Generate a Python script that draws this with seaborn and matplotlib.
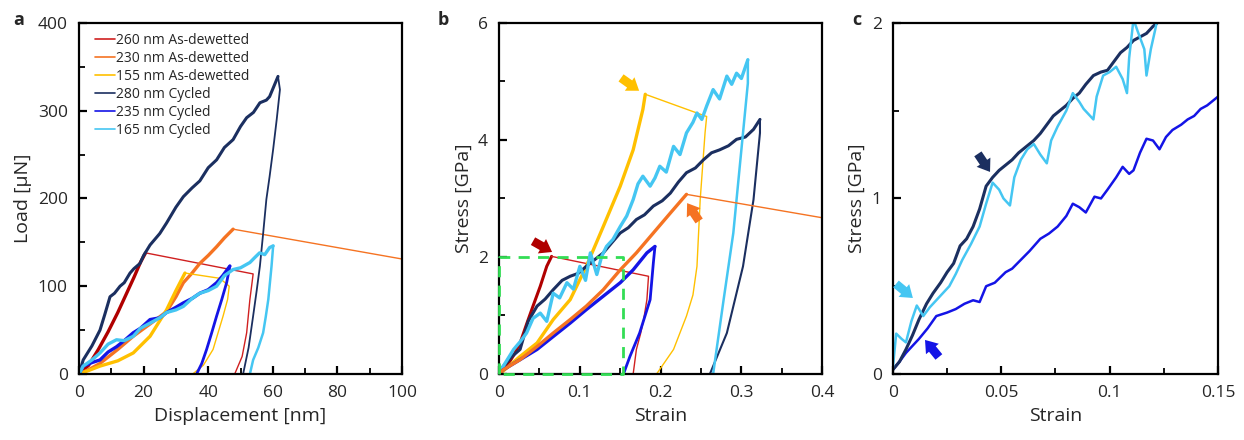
import numpy as np
import pandas as pd
import matplotlib
matplotlib.use("Agg")
import matplotlib.pyplot as plt
import seaborn as sns
from matplotlib.lines import Line2D
from matplotlib.ticker import MultipleLocator

# =========================================================
# DATA
# =========================================================
labels = ["260 nm As-dewetted", "230 nm As-dewetted", "155 nm As-dewetted",
          "280 nm Cycled", "235 nm Cycled", "165 nm Cycled"]
colors = ["#D02020", "#F57322", "#FFC000", "#1B2F60", "#1414E6", "#45C6F2"]

# --- panel a : load [uN] vs displacement [nm] ---
a_red_load_x = [0, 3, 6, 9, 12, 15, 17, 19, 20.6]
a_red_load_y = [0, 10, 28, 48, 70, 94, 110, 127, 138]
a_red_post_x = [20.6, 53.9, 53.6, 52.9, 51.9, 50.5, 48.2]
a_red_post_y = [138, 114, 105, 85, 47, 20, 0]

a_org_load_x = [0, 3, 6.5, 12, 16.8, 22, 27.1, 30, 32.3, 35, 37.4, 40, 42.6, 45, 47.7]
a_org_load_y = [0, 5, 12, 28, 43, 57, 71, 88, 104, 115, 126, 135, 145, 155, 165]
a_org_post_x = [47.7, 100]
a_org_post_y = [165, 131]

a_yel_load_x = [0, 3, 6.5, 12, 16.8, 22, 27.1, 30, 32.8]
a_yel_load_y = [0, 4, 9, 15, 24, 43, 73, 95, 115]
a_yel_post_x = [32.8, 43.6, 46.5, 46.0, 44.6, 41.5, 38.5, 35.2]
a_yel_post_y = [115, 109, 100, 85, 66, 28, 10, 0]

a_nav_load_x = [0, 1.3, 4, 6.5, 8, 9.6, 11, 12.7, 14, 15.8, 17, 18.9, 20, 22, 25, 27.1,
                30, 32.3, 35, 37.4, 40, 42.6, 45, 47.7, 50, 51.9, 54, 56, 58, 59, 61.6]
a_nav_load_y = [0, 16, 32, 50, 68, 88, 92, 100, 104, 115, 120, 126, 135, 147, 160, 172,
                190, 202, 212, 220, 235, 244, 258, 267, 282, 292, 298, 309, 312, 316, 339]
a_nav_post_x = [61.6, 62.2, 61.2, 60.1, 59, 58, 57, 56, 55, 53.9, 52.5, 50.8]
a_nav_post_y = [339, 324, 290, 256, 225, 199, 160, 123, 95, 66, 30, 0]

a_blu_load_x = [0, 1.3, 4, 6.5, 9, 11.6, 14, 16.8, 19, 22, 25, 27.1, 30, 32.3, 35, 37.4,
                40, 42.6, 44.5, 46.7]
a_blu_load_y = [0, 9, 13, 16, 25, 31, 38, 47, 52, 62, 64, 70, 76, 81, 86, 92,
                96, 104, 112, 123]
a_blu_post_x = [46.7, 45.7, 44.2, 42.6, 41, 39.5, 38, 36.4]
a_blu_post_y = [123, 104, 85, 66, 46, 28, 12, 0]

a_cyn_load_x = [0, 1.3, 4, 6.5, 9, 11.6, 14, 16.8, 19, 22, 25, 27.1, 30, 32.3, 35, 37.4,
                40, 42.6, 45, 47.7, 50, 52.9, 54.5, 55.9, 57.5, 59, 60.1]
a_cyn_load_y = [0, 9, 16, 24, 34, 39, 38, 43, 52, 58, 64, 70, 73, 77, 86, 92,
                95, 100, 112, 119, 121, 127, 133, 138, 136, 144, 146]
a_cyn_post_x = [60.1, 59.6, 58.6, 57.8, 57, 55.5, 53.9, 52.9]
a_cyn_post_y = [146, 123, 85, 65, 47, 30, 16, 0]

# --- panel b : stress [GPa] vs strain ---
b_red_load_x = [0, 0.0095, 0.018, 0.026, 0.034, 0.042, 0.051, 0.059, 0.065]
b_red_load_y = [0, 0.13, 0.32, 0.53, 0.85, 1.16, 1.50, 1.84, 2.01]
b_red_post_x = [0.065, 0.185, 0.183, 0.179, 0.175, 0.170, 0.166]
b_red_post_y = [2.01, 1.67, 1.27, 0.93, 0.68, 0.42, 0]

b_org_load_x = [0, 0.005, 0.026, 0.047, 0.067, 0.088, 0.108, 0.129, 0.150, 0.170,
                0.191, 0.212, 0.232]
b_org_load_y = [0, 0.07, 0.245, 0.47, 0.70, 0.93, 1.16, 1.44, 1.78, 2.07,
                2.41, 2.75, 3.07]
b_org_post_x = [0.232, 0.4]
b_org_post_y = [3.07, 2.67]

b_yel_load_x = [0, 0.005, 0.026, 0.047, 0.067, 0.088, 0.108, 0.129, 0.150, 0.166,
                0.178, 0.181]
b_yel_load_y = [0, 0.05, 0.30, 0.53, 0.93, 1.27, 1.84, 2.52, 3.21, 3.83,
                4.52, 4.78]
b_yel_post_x = [0.181, 0.257, 0.255, 0.249, 0.245, 0.240, 0.232, 0.216, 0.195]
b_yel_post_y = [4.78, 4.40, 4.12, 2.98, 1.84, 1.35, 0.99, 0.42, 0]

b_nav_load_x = [0, 0.005, 0.016, 0.026, 0.036, 0.047, 0.057, 0.067, 0.078, 0.088, 0.098,
                0.108, 0.118, 0.129, 0.140, 0.150, 0.160, 0.170, 0.180, 0.191, 0.202,
                0.212, 0.222, 0.232, 0.243, 0.253, 0.263, 0.273, 0.284, 0.294, 0.305,
                0.315, 0.323]
b_nav_load_y = [0, 0.13, 0.30, 0.42, 0.90, 1.16, 1.28, 1.44, 1.60, 1.67, 1.72,
                1.84, 1.95, 2.07, 2.25, 2.41, 2.50, 2.64, 2.72, 2.87, 2.96,
                3.09, 3.28, 3.44, 3.52, 3.66, 3.78, 3.83, 3.90, 4.01, 4.05,
                4.18, 4.35]
b_nav_post_x = [0.323, 0.323, 0.315, 0.302, 0.282, 0.261]
b_nav_post_y = [4.35, 4.12, 2.98, 1.84, 0.70, 0]

b_blu_load_x = [0, 0.005, 0.026, 0.047, 0.067, 0.088, 0.108, 0.129, 0.150, 0.166,
                0.183, 0.193]
b_blu_load_y = [0, 0.07, 0.245, 0.42, 0.64, 0.87, 1.10, 1.33, 1.56, 1.78,
                2.07, 2.18]
b_blu_post_x = [0.193, 0.191, 0.187, 0.174, 0.162, 0.154]
b_blu_post_y = [2.18, 1.90, 1.27, 0.70, 0.30, 0]

b_cyn_load_x = [0, 0.005, 0.018, 0.026, 0.034, 0.042, 0.051, 0.059, 0.067, 0.075, 0.084,
                0.092, 0.100, 0.107, 0.113, 0.121, 0.127, 0.133, 0.141, 0.150, 0.158,
                0.166, 0.172, 0.178, 0.187, 0.193, 0.199, 0.207, 0.216, 0.224, 0.232,
                0.240, 0.245, 0.251, 0.257, 0.265, 0.273, 0.282, 0.288, 0.294, 0.300,
                0.308]
b_cyn_load_y = [0, 0.13, 0.42, 0.55, 0.70, 0.95, 1.04, 0.90, 1.38, 1.30, 1.56,
                1.45, 1.84, 1.60, 2.07, 1.70, 2.01, 2.18, 2.30, 2.52, 2.70,
                2.98, 3.25, 3.38, 3.21, 3.35, 3.55, 3.45, 3.89, 3.75, 4.12,
                4.30, 4.46, 4.35, 4.58, 4.86, 4.70, 5.09, 4.95, 5.14, 5.05,
                5.37]
b_cyn_post_x = [0.308, 0.308, 0.298, 0.290, 0.278, 0.265]
b_cyn_post_y = [5.37, 4.97, 3.55, 2.41, 1.27, 0]

b_box_x = [0, 0, 0.153, 0.153, 0]
b_box_y = [0, 2.0, 2.0, 0, 0]

# --- panel c : zoom of the cycled curves ---
c_nav_x = [0, 0.003, 0.006, 0.009, 0.012, 0.0155, 0.0185, 0.022, 0.025, 0.028, 0.031,
           0.034, 0.037, 0.040, 0.043, 0.046, 0.049, 0.052, 0.055, 0.058, 0.062,
           0.065, 0.068, 0.071, 0.074, 0.077, 0.080, 0.083, 0.086, 0.089, 0.0925,
           0.096, 0.099, 0.102, 0.105, 0.108, 0.111, 0.114, 0.117, 0.120, 0.122]
c_nav_y = [0.025, 0.07, 0.14, 0.22, 0.31, 0.40, 0.46, 0.52, 0.58, 0.63, 0.73,
           0.77, 0.84, 0.94, 1.07, 1.12, 1.16, 1.19, 1.22, 1.26, 1.30,
           1.33, 1.37, 1.42, 1.47, 1.50, 1.53, 1.57, 1.60, 1.65, 1.70,
           1.72, 1.73, 1.78, 1.83, 1.86, 1.90, 1.92, 1.94, 1.98, 2.0]

c_cyn_x = [0, 0.0015, 0.004, 0.006, 0.0085, 0.011, 0.014, 0.017, 0.020, 0.023, 0.026,
           0.029, 0.032, 0.036, 0.040, 0.043, 0.046, 0.049, 0.051, 0.054, 0.056,
           0.059, 0.062, 0.065, 0.068, 0.071, 0.073, 0.076, 0.080, 0.083, 0.086,
           0.088, 0.0925, 0.094, 0.097, 0.100, 0.103, 0.106, 0.108, 0.109, 0.111,
           0.113, 0.116, 0.117, 0.119, 0.121, 0.122]
c_cyn_y = [0.04, 0.23, 0.20, 0.18, 0.30, 0.39, 0.33, 0.38, 0.42, 0.46, 0.50,
           0.57, 0.65, 0.74, 0.84, 0.97, 1.09, 1.05, 1.00, 0.96, 1.12,
           1.22, 1.28, 1.31, 1.25, 1.20, 1.33, 1.41, 1.50, 1.60, 1.55,
           1.51, 1.45, 1.58, 1.70, 1.72, 1.75, 1.68, 1.60, 1.80, 2.02,
           1.95, 1.85, 1.70, 1.85, 1.96, 2.02]

c_blu_x = [0, 0.003, 0.006, 0.009, 0.012, 0.016, 0.020, 0.025, 0.029, 0.033, 0.037,
           0.040, 0.043, 0.047, 0.052, 0.055, 0.059, 0.063, 0.068, 0.072, 0.076,
           0.080, 0.083, 0.086, 0.089, 0.093, 0.096, 0.099, 0.103, 0.106, 0.109,
           0.111, 0.114, 0.117, 0.120, 0.123, 0.126, 0.129, 0.133, 0.136, 0.139,
           0.142, 0.145, 0.148, 0.150]
c_blu_y = [0.025, 0.07, 0.12, 0.16, 0.20, 0.26, 0.33, 0.35, 0.37, 0.40, 0.42,
           0.41, 0.50, 0.52, 0.58, 0.60, 0.65, 0.70, 0.77, 0.80, 0.84,
           0.90, 0.97, 0.95, 0.92, 1.01, 1.00, 1.05, 1.12, 1.18, 1.14,
           1.16, 1.26, 1.34, 1.33, 1.28, 1.35, 1.39, 1.42, 1.45, 1.47,
           1.51, 1.53, 1.56, 1.58]

# =========================================================
# STYLE
# =========================================================
sns.set_theme(style="white")
plt.rcParams["font.family"] = ["Open Sans", "DejaVu Sans"]
plt.rcParams["axes.linewidth"] = 1.6
plt.rcParams["axes.edgecolor"] = "black"

fig = plt.figure(figsize=(12.44, 4.40), dpi=100)
ax_a = fig.add_axes([0.0635, 0.15, 0.2597, 0.798])
ax_b = fig.add_axes([0.4012, 0.15, 0.2597, 0.798])
ax_c = fig.add_axes([0.7178, 0.15, 0.2613, 0.798])


def draw(ax, x, y, color, lw):
    df = pd.DataFrame({"x": x, "y": y})
    sns.lineplot(data=df, x="x", y="y", sort=False, estimator=None,
                 color=color, lw=lw, ax=ax)


def arrow(ax, xy, xytext, color):
    ax.annotate("", xy=xy, xytext=xytext,
                arrowprops=dict(arrowstyle="simple,head_width=0.85,head_length=0.6,tail_width=0.45",
                                mutation_scale=14, color=color, lw=0,
                                shrinkA=0, shrinkB=0),
                zorder=6)


# ---------- panel a ----------
draw(ax_a, a_red_load_x, a_red_load_y, "#B00000", 2.4)
draw(ax_a, a_red_post_x, a_red_post_y, colors[0], 1.0)
draw(ax_a, a_org_load_x, a_org_load_y, colors[1], 2.4)
draw(ax_a, a_org_post_x, a_org_post_y, colors[1], 1.0)
draw(ax_a, a_yel_load_x, a_yel_load_y, colors[2], 2.4)
draw(ax_a, a_yel_post_x, a_yel_post_y, colors[2], 1.0)
draw(ax_a, a_nav_load_x, a_nav_load_y, colors[3], 2.2)
draw(ax_a, a_nav_post_x, a_nav_post_y, colors[3], 1.3)
draw(ax_a, a_blu_load_x, a_blu_load_y, colors[4], 2.4)
draw(ax_a, a_blu_post_x, a_blu_post_y, colors[4], 2.0)
draw(ax_a, a_cyn_load_x, a_cyn_load_y, colors[5], 2.4)
draw(ax_a, a_cyn_post_x, a_cyn_post_y, colors[5], 1.8)

ax_a.set_xlim(0, 100)
ax_a.set_ylim(0, 400)
ax_a.xaxis.set_major_locator(MultipleLocator(20))
ax_a.xaxis.set_minor_locator(MultipleLocator(10))
ax_a.yaxis.set_major_locator(MultipleLocator(100))
ax_a.yaxis.set_minor_locator(MultipleLocator(50))
ax_a.set_xlabel("Displacement [nm]")
ax_a.set_ylabel("Load [μN]")

handles = [Line2D([0], [0], color=c, lw=1.2) for c in colors]
ax_a.legend(handles, labels, loc="upper left", frameon=False, fontsize=10,
            handlelength=1.4, handletextpad=0.1, labelspacing=0.22,
            borderaxespad=0.3, bbox_to_anchor=(0.02, 1.0))

# ---------- panel b ----------
draw(ax_b, b_red_load_x, b_red_load_y, "#B00000", 2.2)
draw(ax_b, b_red_post_x, b_red_post_y, colors[0], 1.0)
draw(ax_b, b_yel_load_x, b_yel_load_y, colors[2], 2.4)
draw(ax_b, b_yel_post_x, b_yel_post_y, colors[2], 1.0)
draw(ax_b, b_nav_load_x, b_nav_load_y, colors[3], 2.2)
draw(ax_b, b_nav_post_x, b_nav_post_y, colors[3], 1.5)
draw(ax_b, b_cyn_load_x, b_cyn_load_y, colors[5], 2.4)
draw(ax_b, b_cyn_post_x, b_cyn_post_y, colors[5], 1.8)
draw(ax_b, b_blu_load_x, b_blu_load_y, colors[4], 2.4)
draw(ax_b, b_blu_post_x, b_blu_post_y, colors[4], 2.0)
draw(ax_b, b_org_load_x, b_org_load_y, colors[1], 2.4)
draw(ax_b, b_org_post_x, b_org_post_y, colors[1], 1.0)
ax_b.plot(b_box_x, b_box_y, color="#33DD55", lw=2.0, ls=(0, (4, 3)),
          clip_on=False, zorder=5)

arrow(ax_b, (0.0656, 2.085), (0.042, 2.27), "#B00000")
arrow(ax_b, (0.1734, 4.84), (0.151, 5.06), colors[2])
arrow(ax_b, (0.2328, 2.92), (0.2477, 2.615), colors[1])

ax_b.set_xlim(0, 0.4)
ax_b.set_ylim(0, 6)
ax_b.xaxis.set_minor_locator(MultipleLocator(0.05))
ax_b.yaxis.set_major_locator(MultipleLocator(2))
ax_b.yaxis.set_minor_locator(MultipleLocator(1))
ax_b.set_xticks([0, 0.1, 0.2, 0.3, 0.4], ["0", "0.1", "0.2", "0.3", "0.4"])
ax_b.set_xlabel("Strain")
ax_b.set_ylabel("Stress [GPa]")

# ---------- panel c ----------
draw(ax_c, c_blu_x, c_blu_y, colors[4], 1.8)
draw(ax_c, c_nav_x, c_nav_y, colors[3], 2.2)
draw(ax_c, c_cyn_x, c_cyn_y, colors[5], 1.8)

arrow(ax_c, (0.0092, 0.433), (0.0014, 0.513), colors[5])
arrow(ax_c, (0.0448, 1.151), (0.0392, 1.254), colors[3])
arrow(ax_c, (0.0148, 0.194), (0.0212, 0.097), colors[4])

ax_c.set_xlim(0, 0.15)
ax_c.set_ylim(0, 2)
ax_c.xaxis.set_minor_locator(MultipleLocator(0.025))
ax_c.yaxis.set_minor_locator(MultipleLocator(0.5))
ax_c.set_xticks([0, 0.05, 0.1, 0.15], ["0", "0.05", "0.1", "0.15"])
ax_c.set_yticks([0, 1, 2], ["0", "1", "2"])
ax_c.set_xlabel("Strain")
ax_c.set_ylabel("Stress [GPa]")

for ax in (ax_a, ax_b, ax_c):
    for sp in ax.spines.values():
        sp.set_visible(True)
        sp.set_color("black")
        sp.set_linewidth(1.6)
    ax.tick_params(which="both", direction="in", color="black", labelsize=12.5,
                   bottom=True, left=True, top=False, right=False)
    ax.tick_params(which="major", length=6, width=1.6, pad=8)
    ax.tick_params(which="minor", length=4, width=1.3)
    ax.xaxis.label.set_size(14)
    ax.yaxis.label.set_size(14)
    ax.set_facecolor("white")

fig.text(0.011, 0.955, "a", fontsize=13, fontweight="bold", va="center")
fig.text(0.352, 0.955, "b", fontsize=13, fontweight="bold", va="center")
fig.text(0.685, 0.955, "c", fontsize=13, fontweight="bold", va="center")

fig.savefig("out.png", dpi=100, facecolor="white")
